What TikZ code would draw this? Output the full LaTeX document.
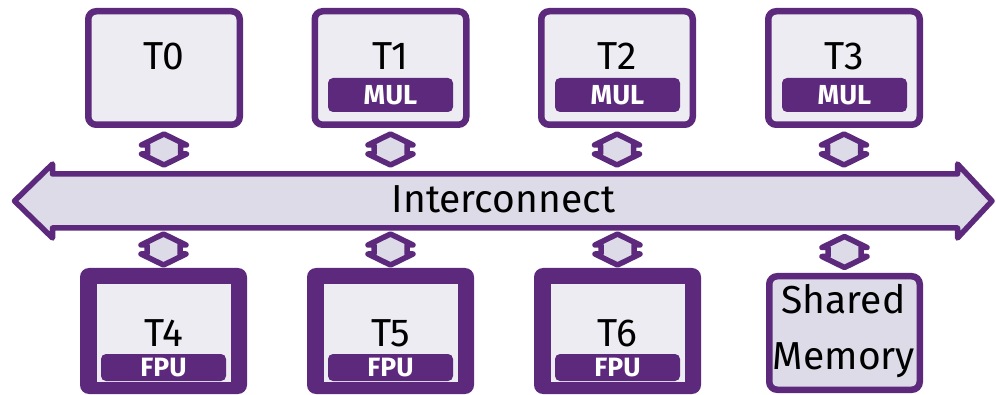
\documentclass[tikz,border=0pt]{standalone}
\usepackage{fontspec}
\setmainfont{Fira Sans}
\usetikzlibrary{calc}
\definecolor{pp}{RGB}{92,41,125}
\definecolor{boxbg}{RGB}{237,236,242}
\definecolor{lav}{RGB}{221,219,231}
\tikzset{
  topbox/.style={draw=pp, fill=boxbg, line width=6.5pt, rounded corners=8pt,
    minimum width=151.5pt, minimum height=113.5pt, inner sep=0pt},
  botouter/.style={fill=pp, rounded corners=9pt, minimum width=167pt,
    minimum height=126pt, inner sep=0pt, outer sep=0pt},
  botinner/.style={fill=boxbg, minimum width=134pt, minimum height=98pt,
    inner sep=0pt, outer sep=0pt},
  membox/.style={draw=pp, fill=lav, line width=6.5pt, rounded corners=8pt,
    minimum width=150.5pt, minimum height=113.5pt, inner sep=0pt},
  badge/.style={fill=pp, text=white, rounded corners=5pt, minimum width=125pt,
    inner sep=0pt, font=\bfseries\fontsize{27.5}{30}\selectfont},
  mulbadge/.style={badge, minimum height=34pt},
  fpubadge/.style={badge, minimum height=27pt, font=\bfseries\fontsize{26.5}{30}\selectfont},
  biglabel/.style={anchor=base, inner sep=0pt, font=\fontsize{39}{46}\selectfont},
  busline/.style={draw=pp, fill=lav, line width=5.5pt, line join=round},
  link/.pic={\draw[pp, fill=lav, line width=5.5pt, line join=round]
    (0,-15.5) -- (22.5,-4.5) -- (16.5,-4.5) -- (16.5,4.5) -- (22.5,4.5) --
    (0,15.5) -- (-22.5,4.5) -- (-16.5,4.5) -- (-16.5,-4.5) -- (-22.5,-4.5) -- cycle;}
}
\begin{document}
\begin{tikzpicture}[x=1pt,y=-1pt]
\useasboundingbox (0,0) rectangle (996,395);
% bus
\draw[busline] (14.5,201) -- (52.5,164) -- (52.5,174) -- (957.5,174) -- (957.5,164)
  -- (992,201) -- (957.5,238) -- (957.5,228) -- (52.5,228) -- (52.5,238) -- cycle;
\node[biglabel] (bus) at (503.5,213) {Interconnect};
\coordinate (bustop) at (0,171);
\coordinate (busbot) at (0,231);
% top boxes
\node[topbox] (t0) at (164,68) {};
\node[topbox] (t1) at (390.5,68) {};
\node[topbox] (t2) at (617,68) {};
\node[topbox] (t3) at (844,68) {};
\node[biglabel] (t0l) at (164,70) {T0};
\node[biglabel] (t1l) at (390.5,70) {T1};
\node[biglabel] (t2l) at (617,70) {T2};
\node[biglabel] (t3l) at (844,70) {T3};
\node[mulbadge] (m1) at (390.5,95) {MUL};
\node[mulbadge] (m2) at (617.5,95) {MUL};
\node[mulbadge] (m3) at (844.5,95) {MUL};
% bottom boxes
\foreach \n/\cx in {t4/163.5, t5/390.5, t6/617.5}{
  \node[botouter] (\n) at (\cx,331) {};
  \node[botinner] (\n in) at (\cx,333) {};
  \node[fpubadge] (\n f) at (\cx,367.5) {FPU};
}
\node[biglabel] (t4l) at (163.5,346.5) {T4};
\node[biglabel] (t5l) at (390.5,346.5) {T5};
\node[biglabel] (t6l) at (617.5,346.5) {T6};
\node[membox] (sm) at (844.5,333) {};
\node[biglabel] (sml1) at (843.5,313) {Shared};
\node[biglabel] (sml2) at (844,370) {Memory};
% links
\foreach \n in {t0,t1,t2,t3}{
  \pic at ($(\n.south)!0.5!(\n.south|-bustop)$) {link};
}
\foreach \n in {t4,t5,t6,sm}{
  \pic at ($(\n.north)!0.5!(\n.north|-busbot)$) {link};
}
\end{tikzpicture}
\end{document}
